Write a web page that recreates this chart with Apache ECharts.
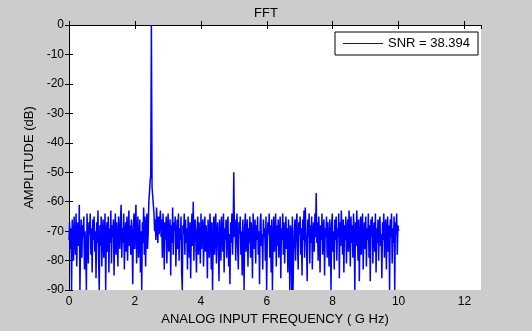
<!DOCTYPE html>
<html>
<head>
<meta charset="utf-8">
<script src="https://cdn.jsdelivr.net/npm/echarts@6/dist/echarts.min.js"></script>
<style>
html,body{margin:0;padding:0;background:#cccccc;}
#chart{width:532px;height:331px;}
</style>
</head>
<body>
<div id="chart"></div>
<script>
// FFT bin spacing (GHz) and amplitude (dB) per bin
const binWidth = 10 / 512;
const amplitude = [
  -73,-67,-76,-69,-90,-66,-72,-80,-65,-71,-78,-64,-82,-70,-67,-75,
  -61,-90,-74,-66,-79,-68,-72,-65,-83,-70,-76,-90,-64,-73,-81,-67,
  -71,-64,-78,-69,-84,-66,-73,-65,-77,-70,-86,-67,-74,-63,-80,-90,
  -68,-75,-65,-82,-70,-66,-79,-72,-64,-90,-71,-67,-77,-65,-84,-69,
  -74,-63,-81,-68,-72,-66,-85,-70,-64,-78,-67,-73,-82,-65,-70,-76,
  -66,-61,-79,-69,-74,-64,-83,-71,-67,-77,-65,-80,-70,-63,-75,-68,
  -78,-66,-72,-88,-69,-64,-76,-67,-61,-81,-70,-65,-79,-73,-66,-84,
  -70,-90,-67,-74,-62,-78,-65,-82,-69,-64,-76,-71,-60,-57,-53,-51,
  0,-55,-58,-61,-64,-70,-66,-73,-62,-68,-74,-65,-71,-67,-63,-72,
  -66,-79,-64,-70,-83,-67,-73,-65,-81,-69,-64,-77,-71,-66,-85,-68,
  -74,-62,-78,-67,-70,-65,-82,-72,-66,-76,-64,-80,-69,-73,-65,-84,
  -90,-68,-71,-64,-78,-66,-74,-69,-83,-65,-72,-79,-67,-86,-70,-64,
  -75,-60,-80,-68,-66,-73,-84,-70,-65,-78,-67,-72,-81,-64,-76,-69,
  -66,-82,-71,-65,-77,-68,-74,-86,-66,-72,-79,-64,-70,-83,-67,-90,
  -73,-65,-78,-69,-64,-81,-70,-67,-75,-87,-66,-72,-80,-65,-71,-77,
  -64,-84,-69,-73,-66,-79,-68,-65,-82,-71,-88,-67,-74,-64,-78,-70,
  -50,-72,-66,-80,-69,-64,-75,-83,-67,-71,-65,-78,-70,-85,-66,-73,
  -90,-68,-64,-77,-71,-66,-82,-69,-74,-65,-79,-67,-72,-86,-64,-70,
  -76,-66,-81,-68,-73,-65,-78,-70,-88,-67,-64,-75,-71,-83,-66,-72,
  -69,-80,-65,-90,-74,-67,-71,-64,-79,-68,-84,-66,-90,-73,-65,-77,
  -70,-64,-82,-68,-75,-66,-79,-71,-65,-86,-69,-73,-64,-78,-67,-81,
  -72,-65,-76,-69,-84,-66,-73,-90,-68,-71,-90,-65,-90,-77,-70,-66,
  -80,-68,-64,-74,-83,-67,-71,-65,-78,-69,-85,-66,-73,-63,-79,-62,
  -70,-75,-87,-66,-72,-64,-81,-68,-74,-65,-83,-70,-67,-77,-64,-72,
  -57,-74,-67,-80,-65,-71,-84,-68,-73,-64,-78,-70,-66,-85,-69,-72,
  -65,-79,-67,-74,-82,-66,-71,-90,-68,-64,-77,-70,-83,-66,-73,-65,
  -80,-69,-72,-64,-86,-67,-75,-63,-70,-78,-66,-84,-68,-73,-65,-81,
  -71,-66,-77,-63,-69,-82,-65,-74,-68,-79,-64,-72,-90,-67,-75,-63,
  -70,-80,-66,-87,-72,-65,-78,-68,-64,-83,-71,-67,-76,-65,-82,-69,
  -73,-64,-79,-68,-87,-66,-72,-65,-81,-70,-67,-77,-64,-84,-69,-74,
  -66,-80,-68,-65,-75,-71,-86,-67,-73,-64,-79,-69,-66,-83,-70,-65,
  -77,-68,-90,-66,-72,-64,-81,-69,-74,-65,-90,-67,-71,-64,-78,-68,
  -70
];
const seriesName = 'SNR = 38.394';
const titleText = 'FFT';
const xTitle = 'ANALOG INPUT FREQUENCY ( G Hz)';
const yTitle = 'AMPLITUDE (dB)';

const points = amplitude.map((v, i) => [i * binWidth, v]);
const font = 'Liberation Sans, Arial, sans-serif';

const chart = echarts.init(document.getElementById('chart'), null, {renderer: 'canvas'});
const axisLineStyle = {show: true, lineStyle: {color: '#000', width: 1}};
const tickStyle = {show: true, inside: true, length: 4, lineStyle: {color: '#000', width: 1}};
chart.setOption({
  backgroundColor: '#cccccc',
  animation: false,
  title: {
    text: titleText, left: 'center', top: 2,
    textStyle: {fontFamily: font, fontSize: 13, fontWeight: 'normal', color: '#000'}
  },
  legend: {
    left: 335, top: 32,
    padding: [5, 8, 5, 8],
    itemWidth: 40, itemHeight: 13, itemGap: 5,
    backgroundColor: '#fff', borderColor: '#000', borderWidth: 1, borderRadius: 0,
    textStyle: {fontFamily: font, fontSize: 13, color: '#000'},
    data: [{name: seriesName, icon: 'path://M0,0L40,0L40,1L0,1Z'}],
    itemStyle: {color: '#0000ff'}
  },
  grid: {
    left: 69, top: 25, width: 412, height: 268,
    show: true, backgroundColor: '#fff', borderWidth: 0
  },
  xAxis: [{
    type: 'value', min: 0, max: 12.5, interval: 2,
    name: xTitle, nameLocation: 'middle', nameGap: 21,
    nameTextStyle: {fontFamily: font, fontSize: 13, color: '#000'},
    axisLine: axisLineStyle, axisTick: tickStyle,
    axisLabel: {fontFamily: font, fontSize: 12, color: '#000', margin: 6,
      showMaxLabel: false,
      formatter: v => (Math.abs(v % 2) < 1e-9 ? String(v) : '')},
    splitLine: {show: false}
  }, {
    type: 'value', min: 0, max: 12.5, interval: 2, position: 'top',
    axisLine: axisLineStyle, axisTick: tickStyle,
    axisLabel: {show: false}, splitLine: {show: false}
  }],
  yAxis: [{
    type: 'value', min: -90, max: 0, interval: 10,
    name: yTitle, nameLocation: 'middle', nameGap: 28,
    nameTextStyle: {fontFamily: font, fontSize: 13, color: '#000'},
    axisLine: axisLineStyle, axisTick: tickStyle,
    axisLabel: {fontFamily: font, fontSize: 12, color: '#000', margin: 5},
    splitLine: {show: false}
  }, {
    type: 'value', min: -90, max: 0, interval: 10, position: 'right',
    axisLine: axisLineStyle, axisTick: tickStyle,
    axisLabel: {show: false}, splitLine: {show: false}
  }],
  series: [{
    name: seriesName, type: 'line', data: points,
    xAxisIndex: 0, yAxisIndex: 0,
    symbol: 'none', showSymbol: false, clip: true,
    lineStyle: {color: '#0000ff', width: 1.5},
    itemStyle: {color: '#0000ff'}
  }]
});
</script>
</body>
</html>
